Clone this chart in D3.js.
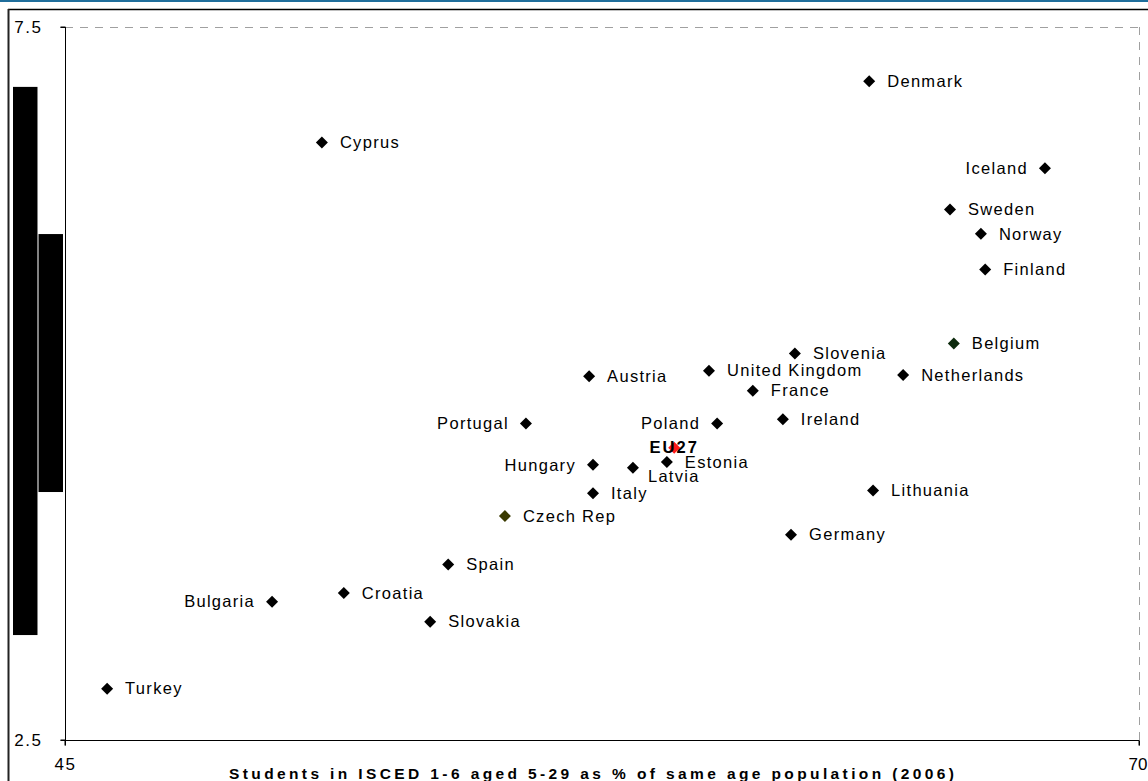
<!DOCTYPE html>
<html><head><meta charset="utf-8">
<script src="https://cdn.jsdelivr.net/npm/d3@7"></script>
<style>
html,body{margin:0;padding:0;background:#fff;}
svg{display:block;font-family:Arial,"Liberation Sans",sans-serif;}
</style></head>
<body><svg id="c" width="1148" height="781"></svg>
<script>
// Data
const countries = ["Denmark","Cyprus","Iceland","Sweden","Norway","Finland","Belgium","Slovenia","United Kingdom","Netherlands","Austria","France","Ireland","Poland","Portugal","EU27","Estonia","Hungary","Latvia","Lithuania","Italy","Czech Rep","Germany","Spain","Croatia","Bulgaria","Slovakia","Turkey"];
const studentsPct = [63.72,50.98,67.81,65.60,66.32,66.42,65.69,61.99,59.99,64.51,57.20,61.01,61.71,60.18,55.73,59.18,59.01,57.29,58.22,63.81,57.29,55.24,61.90,53.92,51.49,49.82,53.50,45.98];
const yValues = [7.12,6.69,6.51,6.22,6.05,5.80,5.28,5.21,5.09,5.06,5.05,4.95,4.75,4.72,4.72,4.55,4.45,4.43,4.41,4.25,4.23,4.07,3.94,3.73,3.53,3.47,3.33,2.86];
const labelSide = ["r","r","l","r","r","r","r","r","r","r","r","r","r","l","l","c","r","l","br","r","r","r","r","r","r","l","r","r"];
const markerColors = {"Czech Rep":"#3a3a00","Belgium":"#0d2a0d","EU27":"#ff1a1a"};
const xTicks = [45,70];
const yTicks = [7.5,2.5];
const xTitle = "Students in ISCED 1-6 aged 5-29 as % of same age population (2006)";
const sideBars = [{k:"a",top:7.08,bottom:3.236},{k:"b",top:6.048,bottom:4.239}];

const svg = d3.select("#c");
const L=65,R=1139,T=27,B=740;
const x = d3.scaleLinear().domain([45,70]).range([L,R]);
const y = d3.scaleLinear().domain([2.5,7.5]).range([B,T]);

// frame lines
svg.append("rect").attr("x",0).attr("y",0).attr("width",1148).attr("height",2).attr("fill","#1f6e9c");
svg.append("line").attr("x1",8).attr("x2",1148).attr("y1",9.5).attr("y2",9.5).attr("stroke","#000").attr("stroke-width",1.5);
svg.append("line").attr("x1",8.5).attr("x2",8.5).attr("y1",9).attr("y2",781).attr("stroke","#222").attr("stroke-width",2);

// side bars
const bx = d3.scaleBand().domain(sideBars.map(d=>d.k)).range([13,63]).paddingInner(0.04);
svg.selectAll("rect.sb").data(sideBars).enter().append("rect").attr("class","sb")
  .attr("x",d=>bx(d.k)).attr("width",bx.bandwidth())
  .attr("y",d=>y(d.top)).attr("height",d=>y(d.bottom)-y(d.top)).attr("fill","#000");

// dashed top/right
svg.append("line").attr("x1",L).attr("x2",R).attr("y1",T+0.5).attr("y2",T+0.5).attr("stroke","#a0a0a0").attr("stroke-dasharray","8,7");
svg.append("line").attr("x1",R+0.5).attr("x2",R+0.5).attr("y1",T).attr("y2",B).attr("stroke","#a0a0a0").attr("stroke-dasharray","8,7");

// axes
const ya = svg.append("g").attr("transform",`translate(${L+0.5},0)`)
  .call(d3.axisLeft(y).tickValues(yTicks).tickFormat(d3.format(".1f")).tickSize(5).tickPadding(18));
const xa = svg.append("g").attr("transform",`translate(0,${B+0.5})`)
  .call(d3.axisBottom(x).tickValues(xTicks).tickSize(5).tickPadding(19));
[ya,xa].forEach(g=>{
  g.select(".domain").attr("stroke","#000");
  g.selectAll(".tick line").attr("stroke","#000");
  g.selectAll("text").attr("font-size",17).attr("letter-spacing","1.5px").attr("fill","#000").attr("font-family","Arial,'Liberation Sans',sans-serif");
});
ya.selectAll("text").attr("dy","0.35em");
xa.selectAll("text").attr("dy","0.35em");
xa.selectAll(".tick text").filter(d=>d===70).attr("letter-spacing","0px").attr("text-anchor","end").attr("x",8);
ya.select(".domain").attr("d",`M-5,${T}H0V${B}H-5`);
xa.select(".domain").attr("d",`M${L},5V0H${R}V5`);

// x title
svg.append("text").attr("x",229).attr("y",779).attr("font-size",15.5).attr("font-weight","bold")
  .attr("textLength",725).attr("lengthAdjust","spacing").text(xTitle);

// points
const data = countries.map((c,i)=>({c,x:studentsPct[i],y:yValues[i],s:labelSide[i]}));
const sym = d3.symbol().type(d3.symbolSquare).size(72);
svg.selectAll("path.pt").data(data).enter().append("path").attr("class","pt")
  .attr("d",sym).attr("transform",d=>`translate(${x(d.x)},${y(d.y)}) rotate(45)`)
  .attr("fill",d=>markerColors[d.c]||"#000");

svg.selectAll("text.lb").data(data).enter().append("text").attr("class","lb")
  .attr("x",d=>{const px=x(d.x); if(d.s==="l")return px-17; if(d.s==="c")return px; if(d.s==="br")return px+15; return px+18;})
  .attr("y",d=>y(d.y)+(d.s==="br"?9:0))
  .attr("dy","0.35em")
  .attr("text-anchor",d=>d.s==="l"?"end":(d.s==="c"?"middle":"start"))
  .attr("font-size",16.5).attr("letter-spacing",d=>d.s==="c"?"2px":"1.3px")
  .attr("font-weight",d=>d.s==="c"?"bold":"normal")
  .attr("fill","#000").text(d=>d.c);
</script></body></html>
